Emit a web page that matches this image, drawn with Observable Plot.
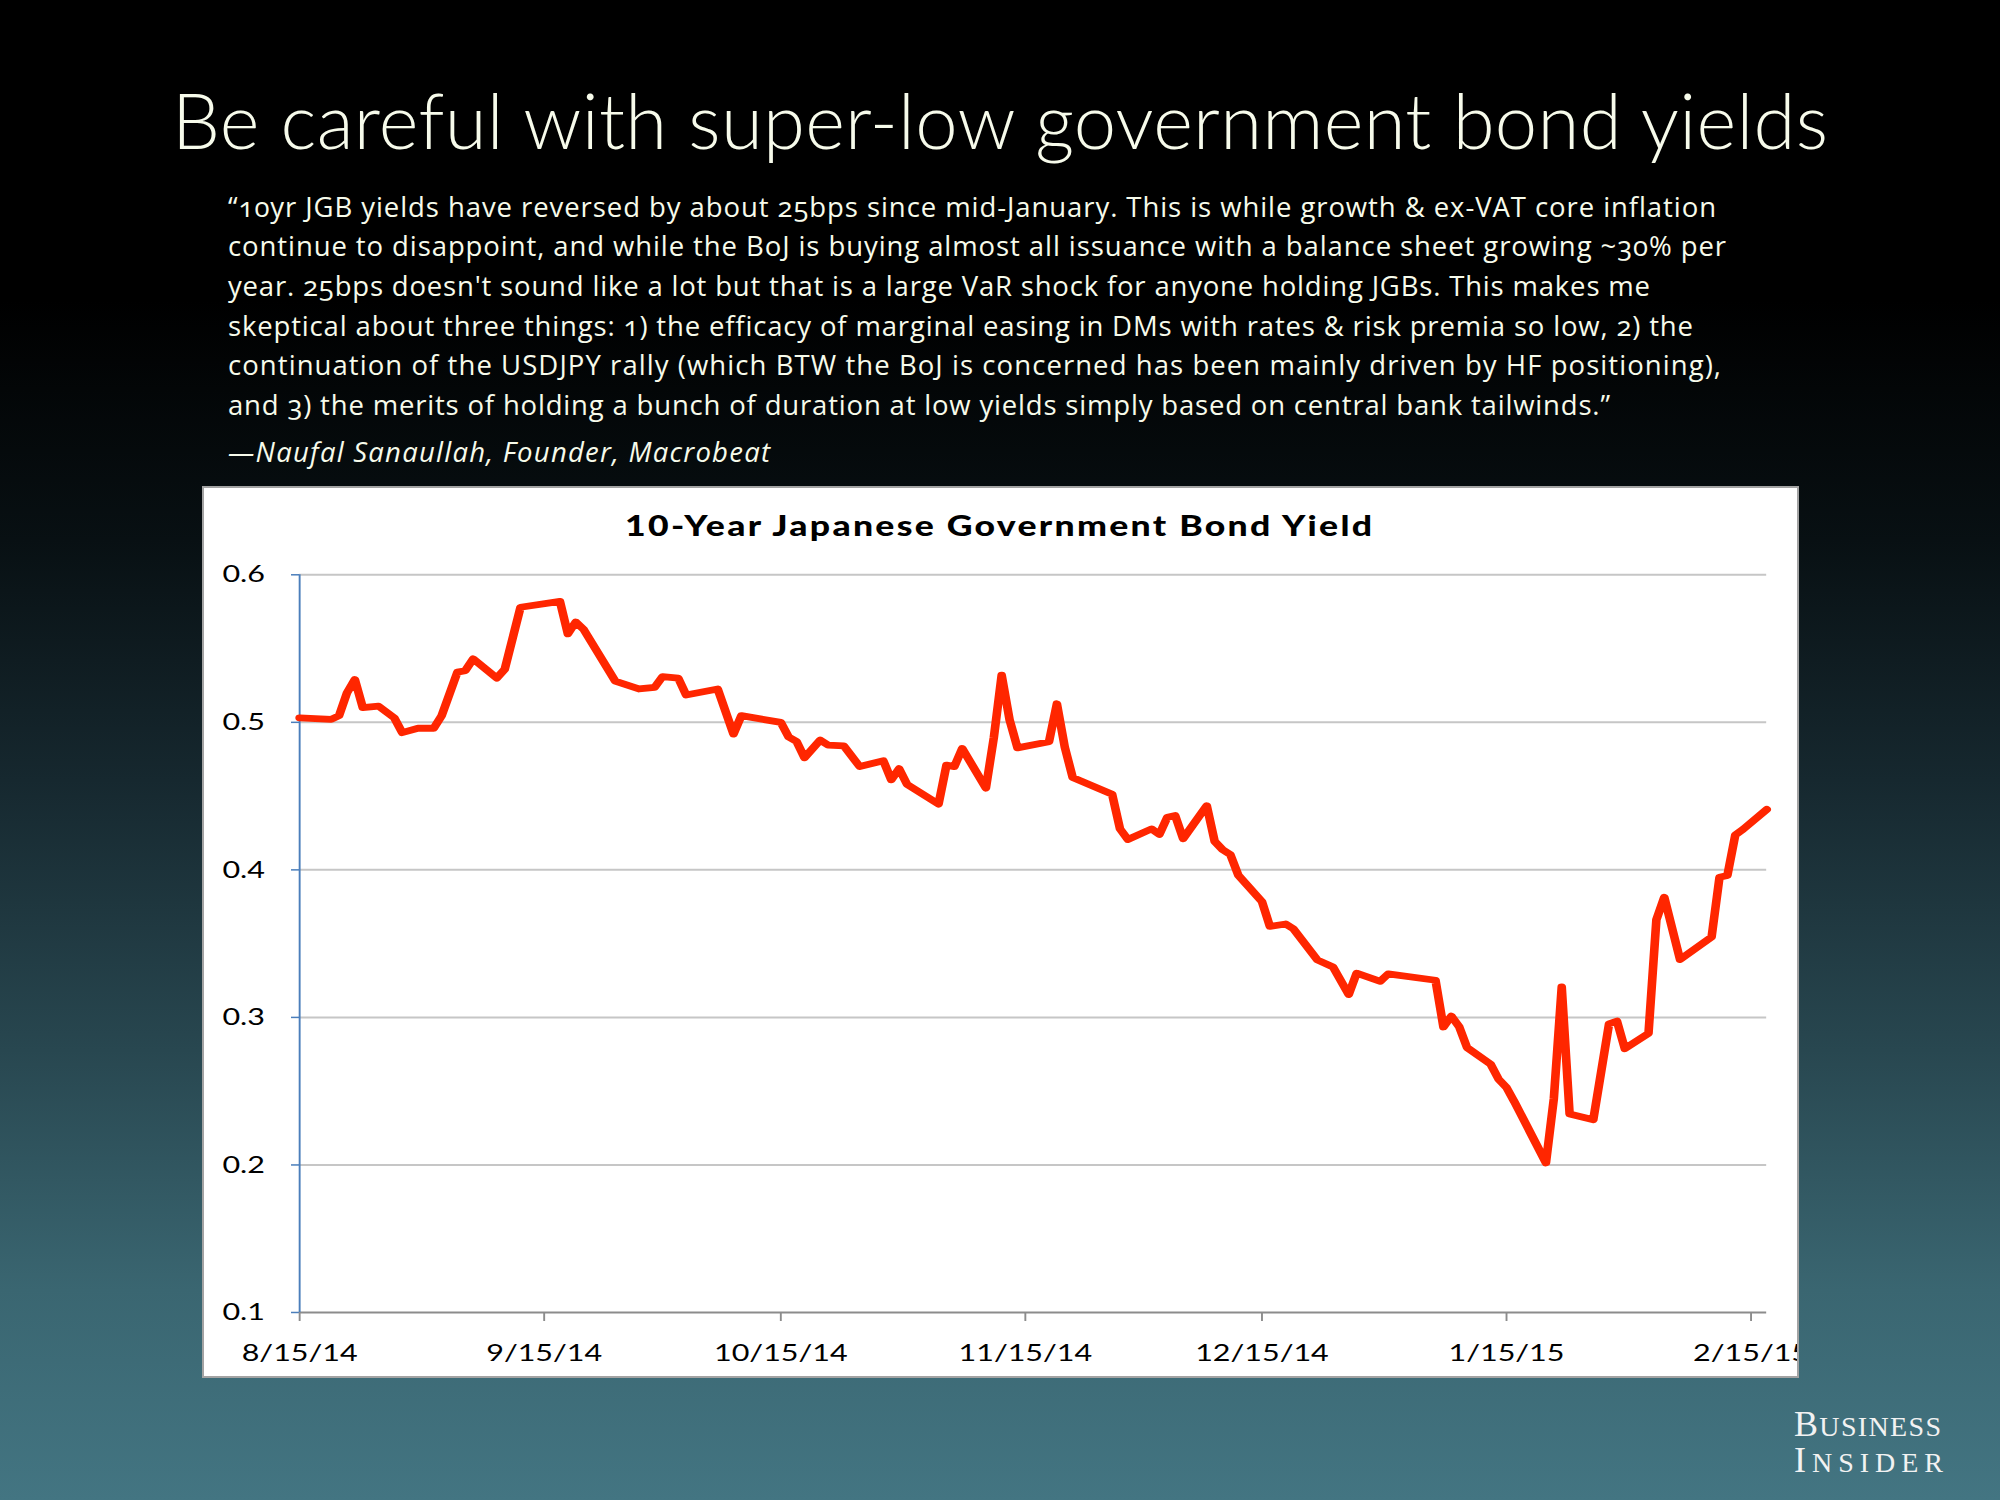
<!DOCTYPE html>
<html><head><meta charset="utf-8">
<script src="https://cdn.jsdelivr.net/npm/d3@7"></script>
<script src="https://cdn.jsdelivr.net/npm/@observablehq/plot@0.6"></script>
<style>
html,body{margin:0;padding:0;}
body{width:2000px;height:1500px;position:relative;overflow:hidden;
  background:linear-gradient(180deg,#000 0%,#000 20%,#081013 36%,#16282f 52%,#284750 70%,#3a6671 86%,#437582 100%);
  font-family:Lato,"Open Sans",sans-serif;color:#f7fbeb;}
.t{position:absolute;white-space:nowrap;}
#title{left:172px;top:82px;font-size:76px;line-height:75px;font-weight:300;}
.q{left:228px;font-family:"Open Sans",Lato,sans-serif;font-size:27.5px;line-height:40px;font-feature-settings:"onum";}
#attr{font-style:italic;}
.bi{font-family:"Liberation Serif","DejaVu Serif",serif;font-size:36px;line-height:36px;color:#f2f2f2;left:1794px;}
.bi .sc{font-size:28px;text-transform:uppercase;}
#box{position:absolute;left:201.5px;top:486px;width:1597px;height:891.5px;background:#fff;border:2px solid #a3a3a3;box-sizing:border-box;overflow:hidden;}
#box svg{position:absolute;left:0;top:0;transform-origin:0 0;}
</style></head>
<body>
<script>
// ---- data ----
const slideTitle = "Be careful with super-low government bond yields";
const quoteLines = [
  "\u201C10yr JGB yields have reversed by about 25bps since mid-January. This is while growth & ex-VAT core inflation",
  "continue to disappoint, and while the BoJ is buying almost all issuance with a balance sheet growing ~30% per",
  "year. 25bps doesn't sound like a lot but that is a large VaR shock for anyone holding JGBs. This makes me",
  "skeptical about three things: 1) the efficacy of marginal easing in DMs with rates & risk premia so low, 2) the",
  "continuation of the USDJPY rally (which BTW the BoJ is concerned has been mainly driven by HF positioning),",
  "and 3) the merits of holding a bunch of duration at low yields simply based on central bank tailwinds.\u201D"
];
const attribution = "\u2014Naufal Sanaullah, Founder, Macrobeat";
const logoLines = ["Business", "Insider"];
const chartTitle = "10-Year Japanese Government Bond Yield";

const dates = [
  "2014-08-15","2014-08-19","2014-08-20","2014-08-21","2014-08-22","2014-08-23","2014-08-25","2014-08-27","2014-08-28","2014-08-30",
  "2014-09-01","2014-09-02","2014-09-04","2014-09-05","2014-09-06","2014-09-09","2014-09-10","2014-09-12","2014-09-17","2014-09-18",
  "2014-09-19","2014-09-20","2014-09-24","2014-09-27","2014-09-29","2014-09-30","2014-10-02","2014-10-03","2014-10-07","2014-10-09",
  "2014-10-10","2014-10-15","2014-10-16","2014-10-17","2014-10-18","2014-10-20","2014-10-21","2014-10-23","2014-10-25","2014-10-28",
  "2014-10-29","2014-10-30","2014-10-31","2014-11-04","2014-11-05","2014-11-06","2014-11-07","2014-11-10","2014-11-11","2014-11-12",
  "2014-11-13","2014-11-14","2014-11-18","2014-11-19","2014-11-20","2014-11-21","2014-11-26","2014-11-27","2014-11-28","2014-12-01",
  "2014-12-02","2014-12-03","2014-12-04","2014-12-05","2014-12-08","2014-12-09","2014-12-10","2014-12-11","2014-12-12","2014-12-15",
  "2014-12-16","2014-12-18","2014-12-19","2014-12-22","2014-12-24","2014-12-26","2014-12-27","2014-12-30","2014-12-31","2015-01-06",
  "2015-01-07","2015-01-08","2015-01-09","2015-01-10","2015-01-13","2015-01-14","2015-01-15","2015-01-16","2015-01-20","2015-01-21",
  "2015-01-22","2015-01-23","2015-01-26","2015-01-28","2015-01-29","2015-01-30","2015-02-02","2015-02-03","2015-02-04","2015-02-06",
  "2015-02-10","2015-02-11","2015-02-12","2015-02-13","2015-02-14","2015-02-17"
];
const yields = [
  0.503,0.502,0.5045,0.520,0.529,0.510,0.511,0.503,0.493,0.496,
  0.496,0.5045,0.534,0.535,0.543,0.530,0.536,0.578,0.582,0.560,
  0.568,0.563,0.528,0.5226,0.5237,0.531,0.530,0.5185,0.5226,0.492,
  0.5045,0.500,0.490,0.487,0.476,0.488,0.4845,0.484,0.470,0.474,
  0.461,0.4686,0.458,0.4446,0.471,0.470,0.4823,0.4554,0.4895,0.532,
  0.5018,0.4827,0.4868,0.5126,0.4832,0.4626,0.4513,0.4278,0.4206,0.4278,
  0.424,0.4357,0.4368,0.4211,0.4435,0.4193,0.4137,0.4103,0.3964,0.3785,
  0.3617,0.3633,0.360,0.339,0.3342,0.3155,0.330,0.3245,0.3295,0.3252,
  0.2935,0.3009,0.2937,0.2795,0.2682,0.2581,0.2525,0.2428,0.2014,0.245,
  0.3207,0.2345,0.2306,0.2957,0.2975,0.2788,0.2892,0.3662,0.3815,0.3392,
  0.3545,0.395,0.3962,0.4236,0.4275,0.441
];
const xDomain = ["2014-08-15", "2015-02-17"];
const xTicks = ["2014-08-15","2014-09-15","2014-10-15","2014-11-15","2014-12-15","2015-01-15","2015-02-15"];
const yTicks = [0.1, 0.2, 0.3, 0.4, 0.5, 0.6];
const yTickLabels = ["0.1","0.2","0.3","0.4","0.5","0.6"];

// ---- layout ----
const root = document.body;
function addText(txt, cls, id, top) {
  const d = document.createElement("div");
  d.className = "t " + cls; if (id) d.id = id;
  d.style.top = top + "px";
  d.textContent = txt;
  root.appendChild(d);
  return d;
}
function fit(el, target) {
  const w = el.getBoundingClientRect().width;
  const n = Math.max(1, el.textContent.length - 1);
  el.style.letterSpacing = ((target - w) / n) + "px";
}
const titleEl = addText(slideTitle, "", "title", 81.5);
fit(titleEl, 1656);
const qTargets = [1488, 1498, 1422, 1465, 1493, 1382];
quoteLines.forEach((l, i) => {
  const el = addText(l, "q", null, 186.5 + i * 39.7);
  fit(el, qTargets[i]);
});
const at = addText(attribution, "q", "attr", 432);
fit(at, 542);
function addLogo(word, top, target) {
  const d = addText("", "bi", null, top);
  const a = document.createElement("span"); a.textContent = word[0];
  const b = document.createElement("span"); b.className = "sc"; b.textContent = word.slice(1);
  d.appendChild(a); d.appendChild(b);
  fit(d, target);
}
addLogo(logoLines[0], 1406, 147);
addLogo(logoLines[1], 1442, 149);

// ---- chart ----
const box = document.createElement("div");
box.id = "box";
root.appendChild(box);

const s = 1.27;                // horizontal stretch of the original chart
const innerW = 1593, innerH = 887.5;
const data = dates.map((d, i) => ({date: new Date(d), value: yields[i]}));
const xt = xTicks.map(d => new Date(d));

const chart = Plot.plot({
  width: innerW / s,
  height: innerH,
  marginLeft: 95 / s,
  marginRight: 30.8 / s,
  marginTop: 86.3,
  marginBottom: 63.5,
  style: {fontFamily: "Lato, 'Open Sans', sans-serif", fontSize: "24px", color: "#000", background: "transparent", overflow: "visible"},
  x: {type: "utc", domain: xDomain.map(d => new Date(d))},
  y: {domain: [0.1, 0.6]},
  marks: [
    Plot.gridY(yTicks.slice(1), {stroke: "#c6c6c6", strokeOpacity: 1, strokeWidth: 2}),
    Plot.ruleY([0.1], {stroke: "#8c8c8c", strokeWidth: 2}),
    Plot.axisY(yTicks, {tickSize: 6.3, tickPadding: 21, stroke: "#4a7ebb", fill: "#000", strokeWidth: 1.5,
      tickFormat: d => yTickLabels[yTicks.indexOf(d)], label: null}),
    Plot.axisX(xt, {tickSize: 9, tickPadding: 22, stroke: "#8c8c8c", fill: "#000", strokeWidth: 1.5,
      tickFormat: d3.utcFormat("%-m/%-d/%y"), label: null}),
    Plot.ruleX([new Date(xDomain[0])], {y1: 0.1, y2: 0.6, stroke: "#4a7ebb", strokeWidth: 1.5}),
    Plot.line(data, {x: "date", y: "value", stroke: "#ff2600", strokeWidth: 6.8, strokeLinejoin: "round", strokeLinecap: "round"}),
    Plot.text([chartTitle], {frameAnchor: "top", lineAnchor: "middle", dy: -47.3, dx: -26.4, fontWeight: 900, fontSize: 28, fill: "#000"})
  ]
});
chart.style.transform = `scaleX(${s})`;
box.appendChild(chart);

// fit chart title width (unscaled target 747 / s)
chart.querySelectorAll("text").forEach(t => {
  if (t.textContent === chartTitle) {
    const w = t.getComputedTextLength();
    const n = chartTitle.length - 1;
    t.style.letterSpacing = ((747 / s - w) / n) + "px";
  }
});
</script>
</body></html>
